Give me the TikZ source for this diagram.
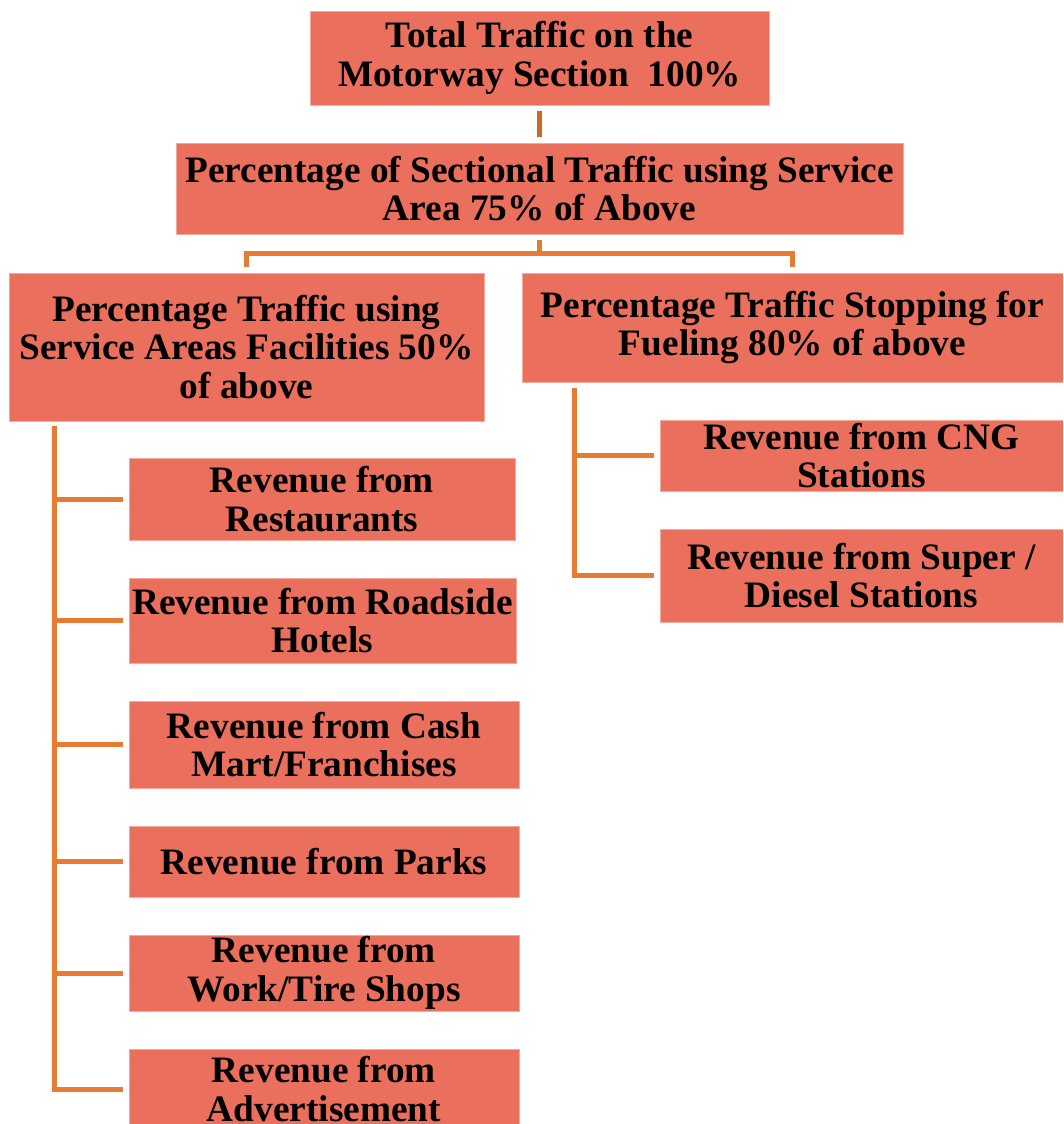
\documentclass[tikz,border=0pt]{standalone}
\usepackage{fontspec}
\setmainfont{Liberation Serif}
\usetikzlibrary{calc}
\definecolor{boxfill}{RGB}{235,111,93}
\definecolor{boxedge}{RGB}{244,170,155}
\definecolor{linkcol}{RGB}{230,124,52}
\definecolor{linkdark}{RGB}{204,104,42}
\tikzset{
  box/.style={fill=boxfill, draw=boxedge, line width=0.6pt, inner sep=0pt,
    align=center, font=\fontsize{37.3}{38.5}\selectfont\bfseries, text=black},
  link/.style={draw=linkcol, line width=5pt},
}
\begin{document}
\begin{tikzpicture}[x=1pt,y=-1pt]
\useasboundingbox (0,0) rectangle (1063,1124);
\clip (0,0) rectangle (1063,1124);

% level 1 and 2
\node[box, minimum width=459pt, minimum height=94pt] (top) at (539.5,58)
  {Total Traffic on the\\Motorway Section\ \ 100\%};
\node[box, minimum width=727pt, minimum height=91pt] (sec) at (539.5,188.5)
  {Percentage of Sectional Traffic using Service\\Area 75\% of Above};

% level 3
\node[box, minimum width=475pt, minimum height=148pt] (fac) at (246.5,347)
  {Percentage Traffic using\\Service Areas Facilities 50\%\\of above};
\node[box, minimum width=541pt, minimum height=109pt] (fuel) at (792.5,327.5)
  {Percentage Traffic Stopping for\\Fueling 80\% of above};

% facilities revenue
\node[box, minimum width=386pt, minimum height=82pt] (res) at (322,499)
  {Revenue from\\Restaurants};
\node[box, minimum width=387pt, minimum height=85pt] (hot) at (322.5,620.5)
  {Revenue from Roadside\\Hotels};
\node[box, minimum width=390pt, minimum height=87pt] (cash) at (324,744.5)
  {Revenue from Cash\\Mart/Franchises};
\node[box, minimum width=390pt, minimum height=71pt] (park) at (324,861.5)
  {Revenue from Parks};
\node[box, minimum width=390pt, minimum height=76pt] (work) at (324,973)
  {Revenue from\\Work/Tire Shops};
\node[box, minimum width=390pt, minimum height=80pt] (adv) at (324,1089)
  {Revenue from\\Advertisement};

% fuel revenue
\node[box, minimum width=403pt, minimum height=71pt] (cng) at (861.5,455.5)
  {Revenue from CNG\\Stations};
\node[box, minimum width=403pt, minimum height=93pt] (sup) at (861.5,575.5)
  {Revenue from Super /\\Diesel Stations};

% connectors
\draw[link, draw=linkdark, shorten <=6pt, shorten >=6pt] (top.south) -- (sec.north);

\coordinate (bus) at (539.5,253);
\draw[link] ([yshift=-6pt]sec.south) -- (bus);
\draw[link] (bus) -| ([yshift=6pt]fac.north);
\draw[link] (bus) -| ([yshift=6pt]fuel.north);

\coordinate (ltrunk) at (54,426);
\draw[link] (ltrunk) |- ([xshift=-6pt]adv.west);
\foreach \c in {res,hot,cash,park,work}
  \draw[link] (ltrunk |- \c.west) -- ([xshift=-6pt]\c.west);

\coordinate (rtrunk) at (574,388);
\draw[link] (rtrunk) |- ([xshift=-6pt]sup.west);
\draw[link] (rtrunk |- cng.west) -- ([xshift=-6pt]cng.west);
\end{tikzpicture}
\end{document}
